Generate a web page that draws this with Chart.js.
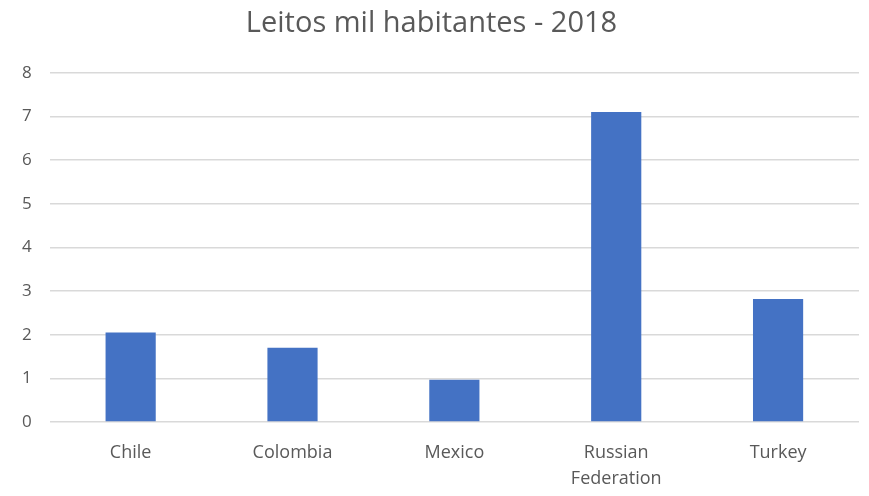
<!DOCTYPE html>
<html>
<head>
<meta charset="utf-8">
<script src="https://cdn.jsdelivr.net/npm/chart.js@4"></script>
<style>
  html, body { margin: 0; padding: 0; background: #fff; }
  #wrap { width: 869px; height: 496px; }
</style>
</head>
<body>
<div id="wrap"><canvas id="chart" width="869" height="496"></canvas></div>
<script>
const categories = ["Chile", "Colombia", "Mexico", ["Russian", "Federation"], "Turkey"];
const leitos = [2.05, 1.70, 0.97, 7.10, 2.82];
const yTicks = [0, 1, 2, 3, 4, 5, 6, 7, 8];

const ctx = document.getElementById("chart").getContext("2d");
new Chart(ctx, {
  type: "bar",
  data: {
    labels: categories,
    datasets: [{
      label: "Leitos",
      data: leitos,
      backgroundColor: "#4472c4",
      categoryPercentage: 1,
      barPercentage: 0.31
    }]
  },
  options: {
    responsive: false,
    animation: false,
    layout: { padding: { left: 4, right: 10, top: 6, bottom: 0 } },
    plugins: {
      legend: { display: false },
      tooltip: { enabled: false },
      title: {
        display: true,
        text: "Leitos mil habitantes - 2018",
        color: "#595959",
        font: { family: "Open Sans", size: 29, weight: "normal" },
        padding: { top: 0, bottom: 32 }
      }
    },
    scales: {
      x: {
        grid: { display: false },
        border: { display: false },
        afterFit: (axis) => { axis.height = 74; },
        ticks: {
          color: "#595959",
          font: { family: "Open Sans", size: 18, lineHeight: 1.45 },
          maxRotation: 0,
          padding: 10
        }
      },
      y: {
        min: 0,
        max: 8,
        afterBuildTicks: (axis) => { axis.ticks = yTicks.map(v => ({ value: v })); },
        grid: { color: "#d9d9d9", lineWidth: 1.5, drawTicks: false },
        border: { display: false },
        ticks: {
          color: "#595959",
          font: { family: "Open Sans", size: 17 },
          padding: 18
        }
      }
    }
  }
});
</script>
</body>
</html>
